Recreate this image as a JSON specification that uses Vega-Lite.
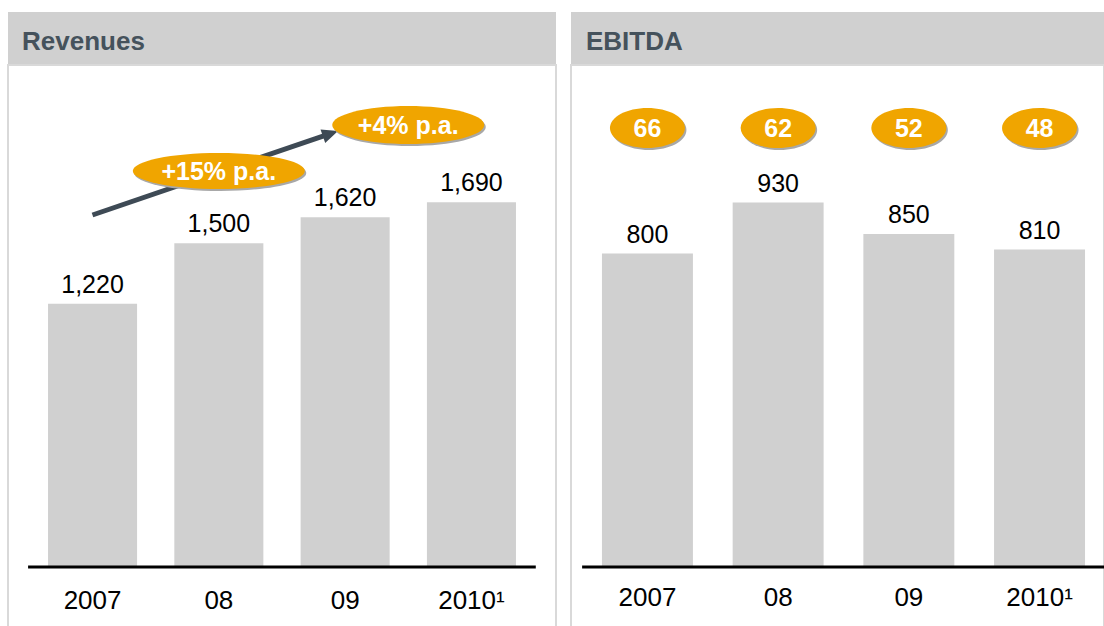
{
  "$schema": "https://vega.github.io/schema/vega-lite/v6.json",
  "padding": {"left": 7, "top": 12, "right": 0, "bottom": 0},
  "background": "white",
  "config": {"font": "Liberation Sans", "view": {"stroke": null}},
  "datasets": {
    "revenues": [
      {"year": "2007", "value": 1220},
      {"year": "08", "value": 1500},
      {"year": "09", "value": 1620},
      {"year": "2010¹", "value": 1690}
    ],
    "ebitda": [
      {"year": "2007", "value": 800, "margin": 66},
      {"year": "08", "value": 930, "margin": 62},
      {"year": "09", "value": 850, "margin": 52},
      {"year": "2010¹", "value": 810, "margin": 48}
    ],
    "cagr": [
      {"period": "2007-09", "label": "+15% p.a."},
      {"period": "2009-10", "label": "+4% p.a."}
    ]
  },
  "spacing": 13,
  "hconcat": [
    {
      "spacing": 0,
      "vconcat": [
        {
          "width": 548, "height": 52,
          "view": {"fill": "#d0d0d0", "stroke": null},
          "data": {"values": [{"title": "Revenues"}]},
          "mark": {"type": "text", "align": "left", "baseline": "alphabetic", "dx": 14, "dy": 12, "fontSize": 26, "fontWeight": "bold", "color": "#45525c"},
          "encoding": {
            "x": {"datum": 0, "type": "quantitative", "scale": {"domain": [0, 1]}, "axis": null},
            "text": {"field": "title"}
          }
        },
        {
          "width": 548, "height": 562,
          "view": {"stroke": "#d9d9d9", "strokeWidth": 2, "fill": "white"},
          "data": {"name": "revenues"},
          "resolve": {"scale": {"x": "independent"}},
          "layer": [
            {
              "mark": {"type": "bar", "color": "#d0d0d0"},
              "encoding": {
                "x": {"field": "year", "type": "nominal", "sort": null,
                  "scale": {"type": "band", "paddingInner": 0.295, "paddingOuter": 0.317},
                  "axis": {"title": null, "domain": false, "ticks": false, "tickSize": 0, "labelFontSize": 26, "labelColor": "#000000", "labelAngle": 0, "labelBaseline": "alphabetic", "labelPadding": -19, "labelFont": "Liberation Sans"}},
                "y": {"field": "value", "type": "quantitative", "scale": {"domain": [-278, 2326], "nice": false, "zero": false}, "axis": null},
                "y2": {"datum": 0}
              }
            },
            {
              "mark": {"type": "text", "fontSize": 25, "dy": -11, "baseline": "alphabetic", "color": "#000000"},
              "encoding": {
                "x": {"field": "year", "type": "nominal", "sort": null, "scale": {"type": "band", "paddingInner": 0.295, "paddingOuter": 0.317}, "axis": null},
                "y": {"field": "value", "type": "quantitative"},
                "text": {"field": "value", "type": "quantitative", "format": ","}
              }
            },
            {
              "data": {"values": [{}]},
              "mark": {"type": "rule", "color": "#000000", "strokeWidth": 3},
              "encoding": {
                "x": {"datum": -0.51, "type": "quantitative", "scale": {"domain": [-0.669, 3.670], "nice": false, "zero": false}, "axis": null},
                "x2": {"datum": 3.51},
                "y": {"datum": 0, "type": "quantitative"}
              }
            },
            {
              "data": {"values": [{}]},
              "mark": {"type": "rule", "color": "#3e4a55", "strokeWidth": 5, "strokeCap": "butt"},
              "encoding": {
                "x": {"datum": 0, "type": "quantitative", "scale": {"domain": [-0.669, 3.670], "nice": false, "zero": false}, "axis": null},
                "x2": {"datum": 1.872},
                "y": {"datum": 1631, "type": "quantitative"},
                "y2": {"datum": 2006}
              }
            },
            {
              "data": {"values": [{}]},
              "mark": {"type": "point", "shape": "M0,0L-1,-0.45L-1,0.45Z", "size": 1024, "angle": -18.9, "filled": true, "opacity": 1, "color": "#3e4a55", "strokeWidth": 0},
              "encoding": {
                "x": {"datum": 1.944, "type": "quantitative", "scale": {"domain": [-0.669, 3.670], "nice": false, "zero": false}, "axis": null},
                "y": {"datum": 2020, "type": "quantitative"}
              }
            },
            {
              "data": {"name": "cagr"},
              "transform": [{"filter": "datum.period == '2007-09'"}],
              "layer": [
                {
                  "mark": {"type": "point", "shape": "M-0.983,0.023C-0.983,-0.0926,-0.5353,-0.1863,0.017,-0.1863C0.5693,-0.1863,1.017,-0.0926,1.017,0.023C1.017,0.1386,0.5693,0.2323,0.017,0.2323C-0.5353,0.2323,-0.983,0.1386,-0.983,0.023Z", "size": 29584, "filled": true, "opacity": 1, "color": "#a8a8a8", "strokeWidth": 0},
                  "encoding": {
                    "x": {"datum": 1, "type": "quantitative", "scale": {"domain": [-0.669, 3.670], "nice": false, "zero": false}, "axis": null},
                    "y": {"datum": 1835, "type": "quantitative"}
                  }
                },
                {
                  "mark": {"type": "point", "shape": "M-1,0C-1,-0.1156,-0.5523,-0.2093,0,-0.2093C0.5523,-0.2093,1,-0.1156,1,0C1,0.1156,0.5523,0.2093,0,0.2093C-0.5523,0.2093,-1,0.1156,-1,0Z", "size": 29584, "filled": true, "opacity": 1, "color": "#f0a500", "strokeWidth": 0},
                  "encoding": {
                    "x": {"datum": 1, "type": "quantitative", "scale": {"domain": [-0.669, 3.670], "nice": false, "zero": false}, "axis": null},
                    "y": {"datum": 1835, "type": "quantitative"}
                  }
                },
                {
                  "mark": {"type": "text", "fontSize": 25, "fontWeight": "bold", "color": "white", "baseline": "middle", "dy": 1},
                  "encoding": {
                    "x": {"datum": 1, "type": "quantitative", "scale": {"domain": [-0.669, 3.670], "nice": false, "zero": false}, "axis": null},
                    "y": {"datum": 1835, "type": "quantitative"},
                    "text": {"field": "label"}
                  }
                }
              ]
            },
            {
              "data": {"name": "cagr"},
              "transform": [{"filter": "datum.period == '2009-10'"}],
              "layer": [
                {
                  "mark": {"type": "point", "shape": "M-0.98,0.026C-0.98,-0.1121,-0.5323,-0.224,0.02,-0.224C0.5723,-0.224,1.02,-0.1121,1.02,0.026C1.02,0.1641,0.5723,0.276,0.02,0.276C-0.5323,0.276,-0.98,0.1641,-0.98,0.026Z", "size": 23104, "filled": true, "opacity": 1, "color": "#a8a8a8", "strokeWidth": 0},
                  "encoding": {
                    "x": {"datum": 2.5, "type": "quantitative", "scale": {"domain": [-0.669, 3.670], "nice": false, "zero": false}, "axis": null},
                    "y": {"datum": 2048, "type": "quantitative"}
                  }
                },
                {
                  "mark": {"type": "point", "shape": "M-1,0C-1,-0.1381,-0.5523,-0.25,0,-0.25C0.5523,-0.25,1,-0.1381,1,0C1,0.1381,0.5523,0.25,0,0.25C-0.5523,0.25,-1,0.1381,-1,0Z", "size": 23104, "filled": true, "opacity": 1, "color": "#f0a500", "strokeWidth": 0},
                  "encoding": {
                    "x": {"datum": 2.5, "type": "quantitative", "scale": {"domain": [-0.669, 3.670], "nice": false, "zero": false}, "axis": null},
                    "y": {"datum": 2048, "type": "quantitative"}
                  }
                },
                {
                  "mark": {"type": "text", "fontSize": 25, "fontWeight": "bold", "color": "white", "baseline": "middle", "dy": 1},
                  "encoding": {
                    "x": {"datum": 2.5, "type": "quantitative", "scale": {"domain": [-0.669, 3.670], "nice": false, "zero": false}, "axis": null},
                    "y": {"datum": 2048, "type": "quantitative"},
                    "text": {"field": "label"}
                  }
                }
              ]
            }
          ]
        }
      ]
    },
    {
      "spacing": 0,
      "vconcat": [
        {
          "width": 533, "height": 52,
          "view": {"fill": "#d0d0d0", "stroke": null},
          "data": {"values": [{"title": "EBITDA"}]},
          "mark": {"type": "text", "align": "left", "baseline": "alphabetic", "dx": 15, "dy": 12, "fontSize": 26, "fontWeight": "bold", "color": "#45525c"},
          "encoding": {
            "x": {"datum": 0, "type": "quantitative", "scale": {"domain": [0, 1]}, "axis": null},
            "text": {"field": "title"}
          }
        },
        {
          "width": 533, "height": 562,
          "view": {"stroke": "#d9d9d9", "strokeWidth": 2, "fill": "white"},
          "data": {"name": "ebitda"},
          "resolve": {"scale": {"x": "independent"}},
          "layer": [
            {
              "mark": {"type": "bar", "color": "#d0d0d0"},
              "encoding": {
                "x": {"field": "year", "type": "nominal", "sort": null,
                  "scale": {"type": "band", "paddingInner": 0.304, "paddingOuter": 0.191, "align": 0.62},
                  "axis": {"title": null, "domain": false, "ticks": false, "tickSize": 0, "labelFontSize": 26, "labelColor": "#000000", "labelAngle": 0, "labelBaseline": "alphabetic", "labelPadding": -22, "labelFont": "Liberation Sans"}},
                "y": {"field": "value", "type": "quantitative", "scale": {"domain": [-153, 1281], "nice": false, "zero": false}, "axis": null},
                "y2": {"datum": 0}
              }
            },
            {
              "mark": {"type": "text", "fontSize": 25, "dy": -11, "baseline": "alphabetic", "color": "#000000"},
              "encoding": {
                "x": {"field": "year", "type": "nominal", "sort": null, "scale": {"type": "band", "paddingInner": 0.304, "paddingOuter": 0.191, "align": 0.62}, "axis": null},
                "y": {"field": "value", "type": "quantitative"},
                "text": {"field": "value", "type": "quantitative", "format": ","}
              }
            },
            {
              "data": {"values": [{}]},
              "mark": {"type": "rule", "color": "#000000", "strokeWidth": 3},
              "encoding": {
                "x": {"datum": -0.5, "type": "quantitative", "scale": {"domain": [-0.585, 3.493], "nice": false, "zero": false}, "axis": null},
                "x2": {"datum": 3.5},
                "y": {"datum": 0, "type": "quantitative"}
              }
            },
            {
              "mark": {"type": "point", "shape": "M-0.96,0.053C-0.96,-0.2414,-0.5123,-0.48,0.04,-0.48C0.5923,-0.48,1.04,-0.2414,1.04,0.053C1.04,0.3474,0.5923,0.586,0.04,0.586C-0.5123,0.586,-0.96,0.3474,-0.96,0.053Z", "size": 5625, "filled": true, "opacity": 1, "color": "#a8a8a8", "strokeWidth": 0},
              "encoding": {
                "x": {"field": "year", "type": "nominal", "sort": null, "scale": {"type": "band", "paddingInner": 0.304, "paddingOuter": 0.191, "align": 0.62}, "axis": null},
                "y": {"datum": 1120, "type": "quantitative"}
              }
            },
            {
              "mark": {"type": "point", "shape": "M-1,0C-1,-0.2944,-0.5523,-0.533,0,-0.533C0.5523,-0.533,1,-0.2944,1,0C1,0.2944,0.5523,0.533,0,0.533C-0.5523,0.533,-1,0.2944,-1,0Z", "size": 5625, "filled": true, "opacity": 1, "color": "#f0a500", "strokeWidth": 0},
              "encoding": {
                "x": {"field": "year", "type": "nominal", "sort": null, "scale": {"type": "band", "paddingInner": 0.304, "paddingOuter": 0.191, "align": 0.62}, "axis": null},
                "y": {"datum": 1120, "type": "quantitative"}
              }
            },
            {
              "mark": {"type": "text", "fontSize": 25, "fontWeight": "bold", "color": "white", "baseline": "middle", "dy": 1},
              "encoding": {
                "x": {"field": "year", "type": "nominal", "sort": null, "scale": {"type": "band", "paddingInner": 0.304, "paddingOuter": 0.191, "align": 0.62}, "axis": null},
                "y": {"datum": 1120, "type": "quantitative"},
                "text": {"field": "margin", "type": "quantitative"}
              }
            }
          ]
        }
      ]
    }
  ]
}
